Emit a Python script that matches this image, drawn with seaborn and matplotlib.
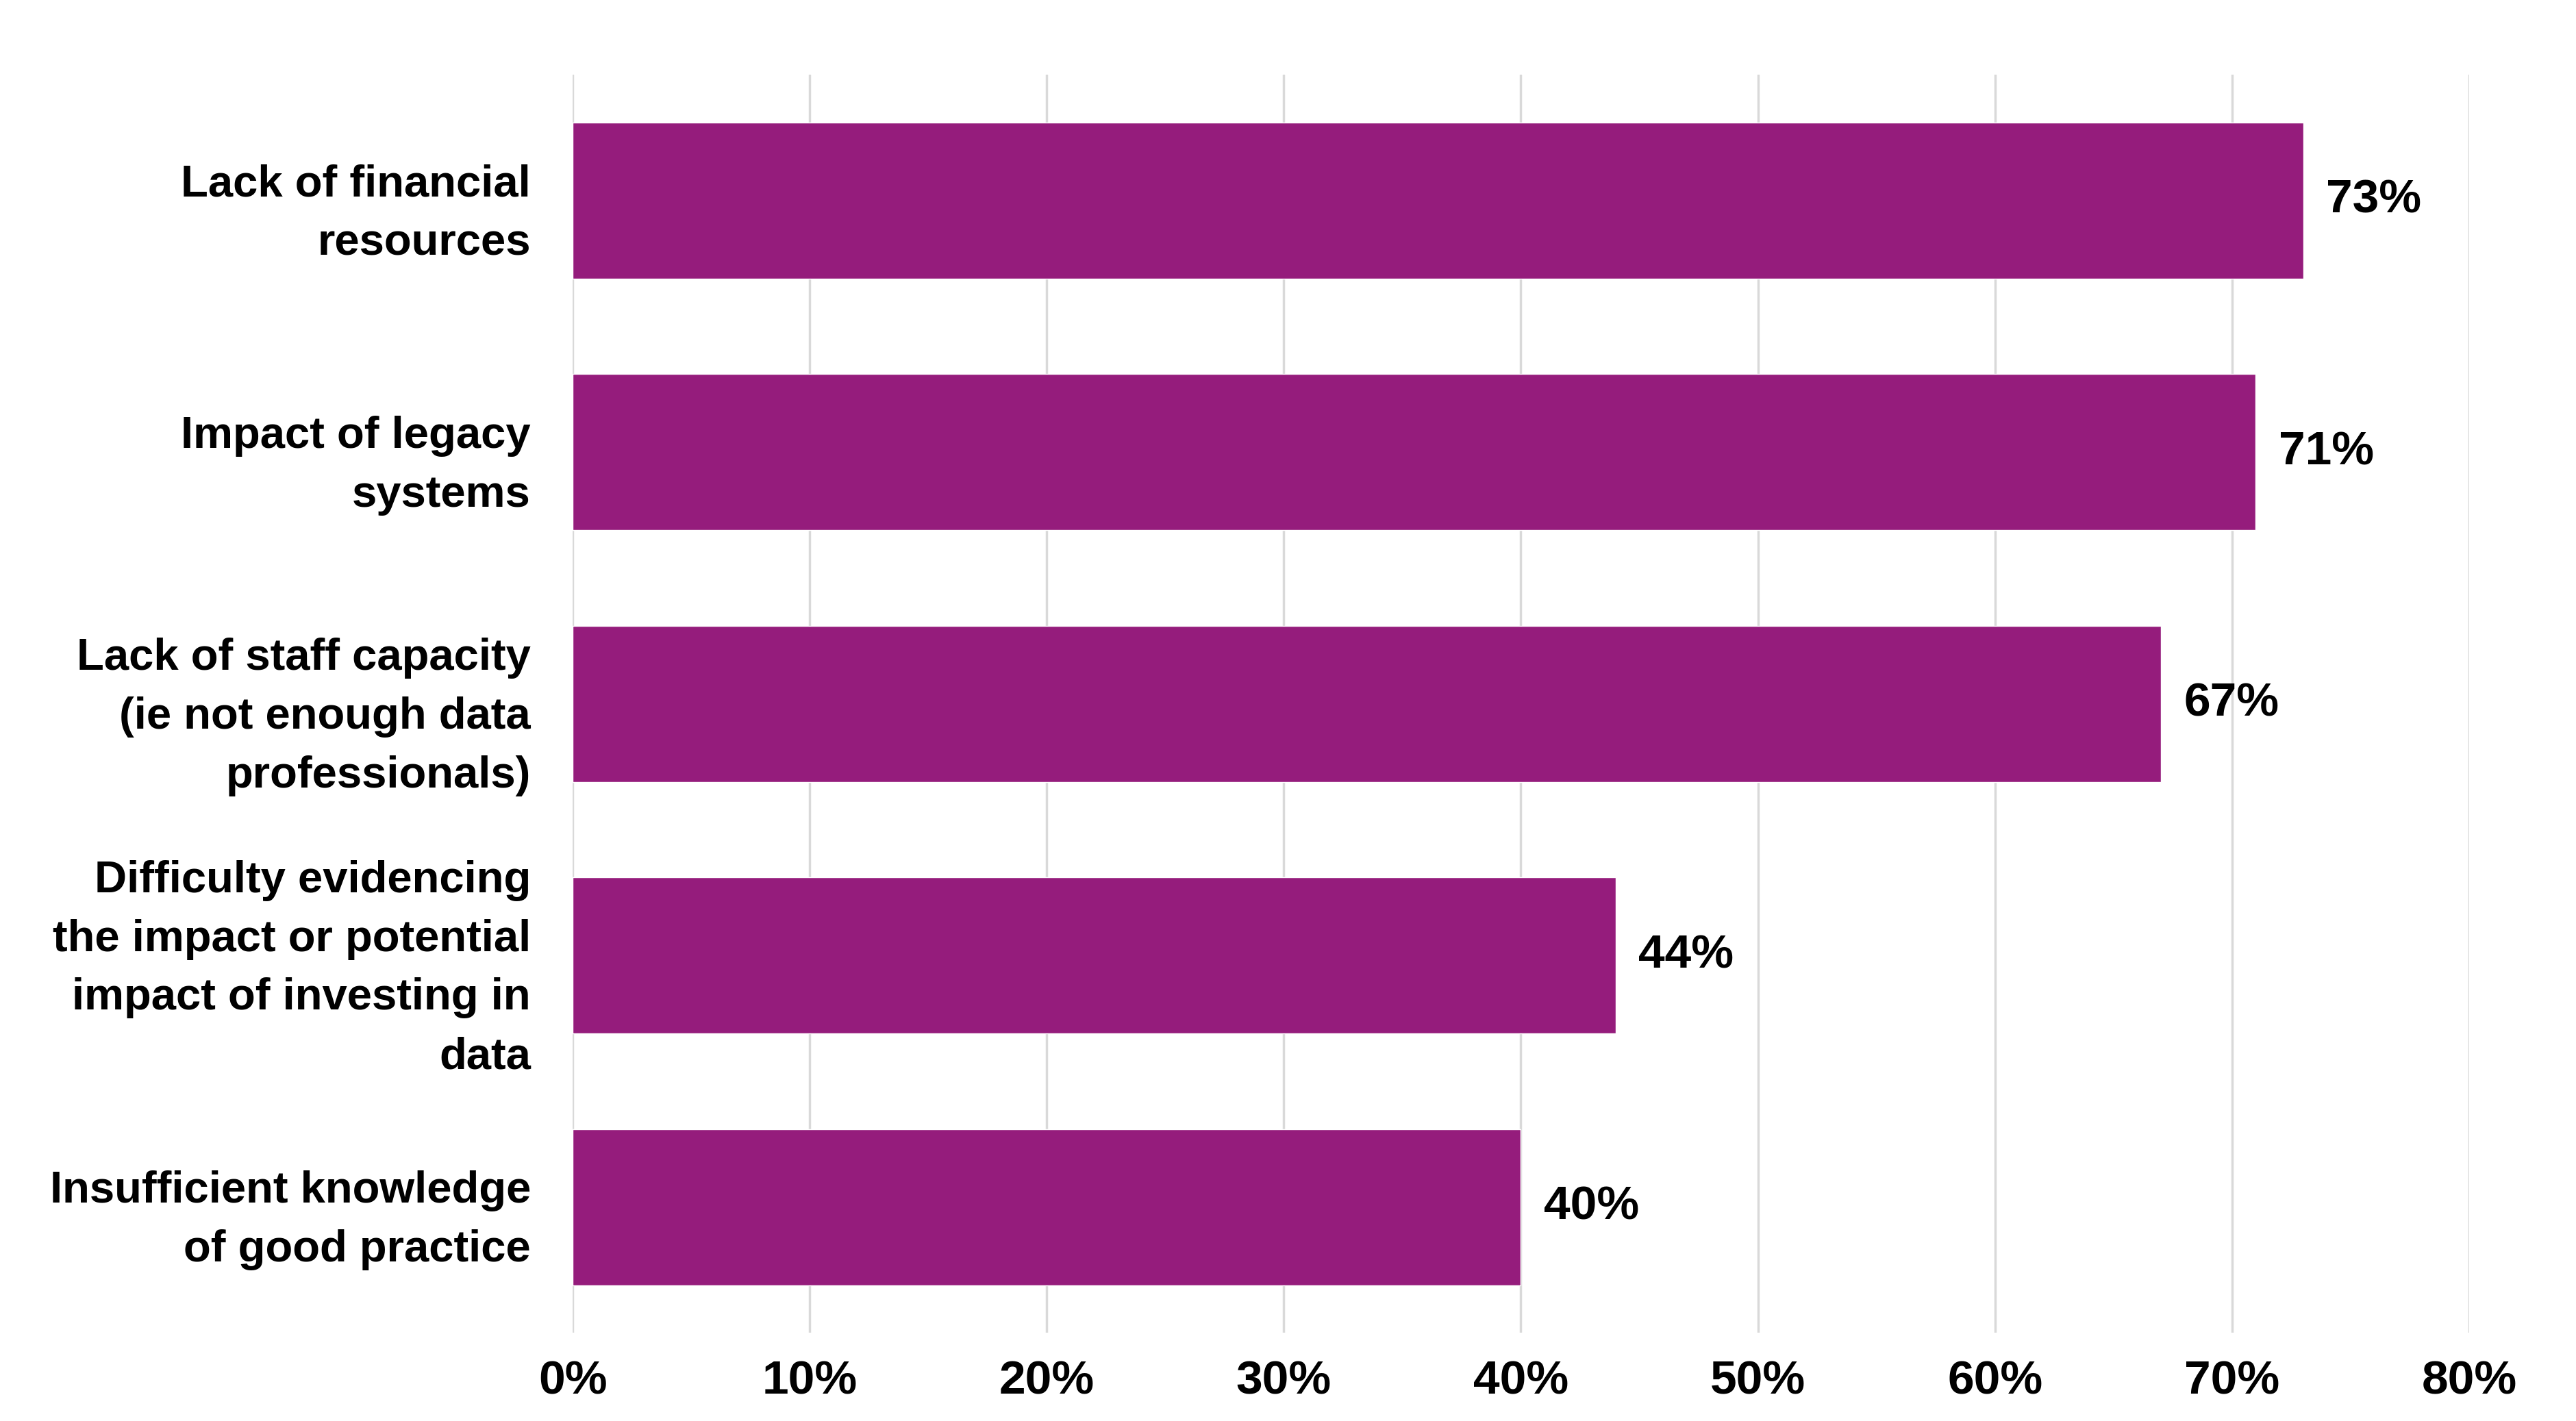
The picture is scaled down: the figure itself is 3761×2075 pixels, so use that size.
import matplotlib
matplotlib.use("Agg")
import matplotlib.pyplot as plt
import seaborn as sns
import pandas as pd

categories = [
    "Lack of financial\nresources",
    "Impact of legacy\nsystems",
    "Lack of staff capacity\n(ie not enough data\nprofessionals)",
    "Difficulty evidencing\nthe impact or potential\nimpact of investing in\ndata",
    "Insufficient knowledge\nof good practice",
]
values = [73, 71, 67, 44, 40]
x_ticks = [0, 10, 20, 30, 40, 50, 60, 70, 80]

df = pd.DataFrame({"category": categories, "value": values})

sns.set_theme(style="white")
plt.rcParams["font.family"] = ["Liberation Sans", "DejaVu Sans"]
plt.rcParams["font.weight"] = "bold"
plt.rcParams["text.color"] = "black"
plt.rcParams["xtick.color"] = "black"
plt.rcParams["ytick.color"] = "black"

fig = plt.figure(figsize=(37.61, 20.75), dpi=100)
ax = fig.add_axes([0.2223, 0.062, 0.7362, 0.8855])

sns.barplot(data=df, x="value", y="category", color="#951C7C", saturation=1,
            width=0.62, ax=ax, zorder=3)

ax.set_xlim(0, 80)
ax.set_ylim(4.5, -0.5)
ax.set_xticks(x_ticks)
ax.set_xticklabels([f"{t}%" for t in x_ticks], fontsize=50, fontweight="bold")
ax.set_yticklabels(categories, fontsize=47, fontweight="bold", ha="right",
                   multialignment="right", linespacing=1.55)
ax.tick_params(axis="y", length=0, pad=44)
ax.tick_params(axis="x", length=0, pad=28)
ax.set_xlabel("")
ax.set_ylabel("")

ax.grid(axis="x", color="#D9D9D9", linewidth=2.5, zorder=0)
ax.grid(axis="y", visible=False)
for s in ax.spines.values():
    s.set_visible(False)

for i, v in enumerate(values):
    ax.annotate(f"{v}%", xy=(v, i), xytext=(24, 0), textcoords="offset points",
                va="center", ha="left", fontsize=50, fontweight="bold")

plt.savefig("out.png", dpi=100)
plt.close()
